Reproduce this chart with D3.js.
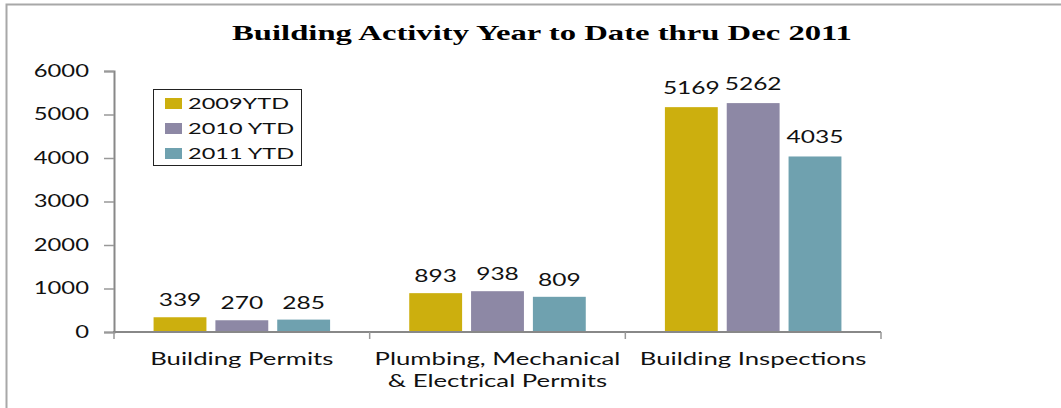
<!DOCTYPE html>
<html><head><meta charset="utf-8">
<script src="https://cdn.jsdelivr.net/npm/d3@7"></script>
<style>body{margin:0;background:#fff}svg{display:block}</style>
</head><body>
<svg id="c" width="1061" height="408"></svg>
<script>
const title = "Building Activity Year to Date thru Dec 2011";
const categories = [["Building Permits"], ["Plumbing, Mechanical", "& Electrical Permits"], ["Building Inspections"]];
const seriesNames = ["2009YTD", "2010 YTD", "2011 YTD"];
const v2009 = [339, 893, 5169];
const v2010 = [270, 938, 5262];
const v2011 = [285, 809, 4035];
const yTicks = [0, 1000, 2000, 3000, 4000, 5000, 6000];
const colors = ["#ccaf0e", "#8d88a5", "#6fa1af"];

const series = [v2009, v2010, v2011];
// horizontal stretch factors (the reference text is horizontally stretched)
const SX = 1.4, SXT = 1.556, SXL = 1.47, SXC = 1.47;
const labelGap = [11, 11, 13.5];
const svg = d3.select("#c");

function stretch(sel, f) {
  sel.each(function(){
    const w = this.getComputedTextLength();
    d3.select(this).attr("textLength", w * f).attr("lengthAdjust", "spacingAndGlyphs");
  });
}

// frame
svg.append("path").attr("d", "M6.5,408 V4.5 H1061").attr("fill", "none")
  .attr("stroke", "#a8a8a8").attr("stroke-width", 2);

// scales
const y = d3.scaleLinear().domain([0, 6000]).range([332, 71]);
const xCat = d3.scaleLinear().domain([0, categories.length]).range([114, 881]);
const inner = d3.scaleBand().domain(d3.range(series.length)).range([0, 1])
  .paddingInner(0.145).paddingOuter(0.64);

// title
svg.append("text").attr("x", 542).attr("y", 40).attr("text-anchor", "middle")
  .attr("font-family", "Liberation Serif, Times New Roman, serif").attr("font-weight", "bold")
  .attr("font-size", 21).attr("fill", "#000").text(title).call(stretch, SXT);

// y axis
const yAxis = svg.append("g").attr("transform", "translate(114,0)")
  .call(d3.axisLeft(y).tickValues(yTicks).tickSize(10).tickPadding(15).tickFormat(d3.format("d")));
yAxis.select(".domain").attr("stroke", "#888").attr("stroke-width", 2);
yAxis.selectAll(".tick line").attr("stroke", "#999").attr("stroke-width", 1.5);
yAxis.selectAll(".tick text").attr("font-family", "Lato, sans-serif").attr("font-size", 17)
  .attr("fill", "#111").call(stretch, SX);

// bars
categories.forEach((cat, i) => {
  series.forEach((vals, s) => {
    const x0 = xCat(i + inner(s));
    const x1 = xCat(i + inner(s) + inner.bandwidth());
    svg.append("rect").attr("x", x0).attr("width", x1 - x0)
      .attr("y", y(vals[i])).attr("height", y(0) - y(vals[i])).attr("fill", colors[s]);
    svg.append("text").attr("x", (x0 + x1) / 2).attr("y", y(vals[i]) - labelGap[i])
      .attr("text-anchor", "middle").attr("font-family", "Lato, sans-serif").attr("font-size", 17.5)
      .attr("fill", "#111").text(vals[i]).call(stretch, SX);
  });
});

// x axis
const xg = svg.append("g");
xg.append("line").attr("x1", 113).attr("x2", xCat(categories.length)).attr("y1", y(0)).attr("y2", y(0))
  .attr("stroke", "#888").attr("stroke-width", 2);
xg.selectAll("line.t").data(d3.range(categories.length + 1)).join("line").attr("class", "t")
  .attr("x1", d => xCat(d)).attr("x2", d => xCat(d)).attr("y1", y(0)).attr("y2", y(0) + 7)
  .attr("stroke", "#999").attr("stroke-width", 1.5);
categories.forEach((lines, i) => {
  lines.forEach((ln, k) => {
    svg.append("text").attr("x", xCat(i + 0.5)).attr("y", 365 + k * 22)
      .attr("text-anchor", "middle").attr("font-family", "Lato, sans-serif").attr("font-size", 17.5)
      .attr("fill", "#111").text(ln).call(stretch, SXC);
  });
});

// legend
const lg = svg.append("g");
lg.append("rect").attr("x", 153.5).attr("y", 89.5).attr("width", 148).attr("height", 76)
  .attr("fill", "#fff").attr("stroke", "#222").attr("stroke-width", 1);
seriesNames.forEach((n, s) => {
  const cy = 103.5 + s * 25;
  lg.append("rect").attr("x", 165).attr("y", cy - 5.5).attr("width", 17).attr("height", 11).attr("fill", colors[s]);
  lg.append("text").attr("x", 188).attr("y", cy + 5.5).attr("font-family", "Lato, sans-serif")
    .attr("font-size", 16).attr("fill", "#111").text(n).call(stretch, SXL);
});
</script>
</body></html>
